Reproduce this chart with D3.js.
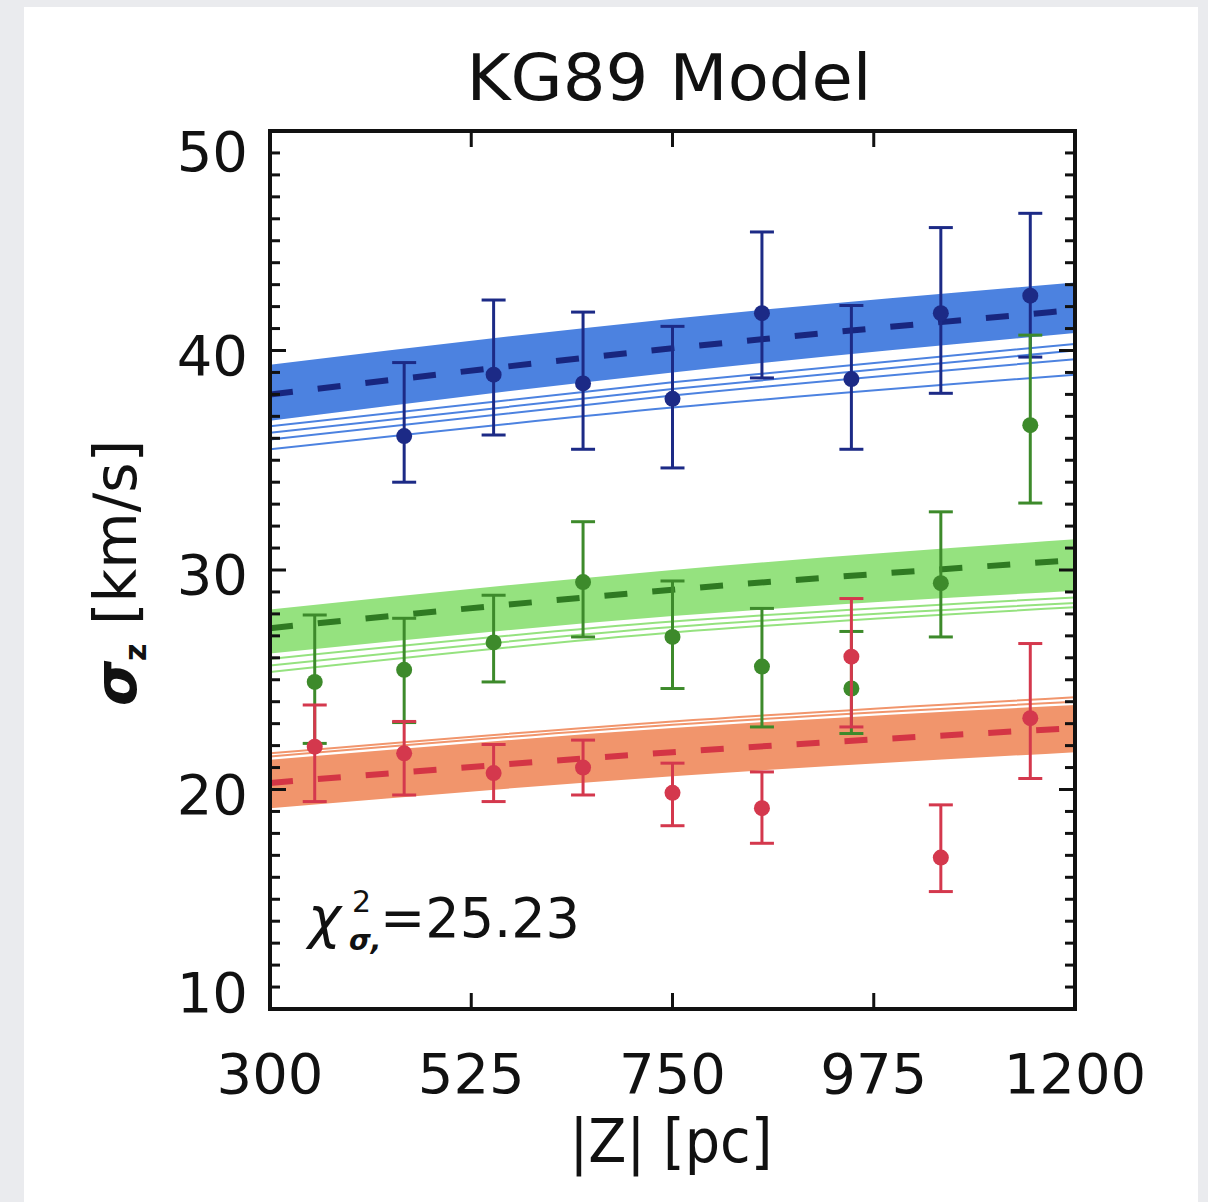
<!DOCTYPE html>
<html>
<head>
<meta charset="utf-8">
<script src="https://cdn.jsdelivr.net/npm/d3@7"></script>
<style>
  html, body { margin: 0; padding: 0; background: #eaebee; }
  svg { display: block; }
  text { font-family: "DejaVu Sans", sans-serif; fill: #111; }
</style>
</head>
<body>
<svg id="chart" width="1208" height="1202"></svg>
<script>
// measured data points (|Z| bins in pc, sigma_z in km/s)
var blueZ = [450, 550, 650, 750, 850, 950, 1050, 1150];
var blueSig = [36.1, 38.9, 38.5, 37.8, 41.7, 38.7, 41.7, 42.5];
var blueLo = [34.0, 36.15, 35.5, 34.65, 38.75, 35.5, 38.05, 39.7];
var blueHi = [39.45, 42.3, 41.75, 41.1, 45.4, 42.05, 45.6, 46.25];

var greenZ = [350, 450, 550, 650, 750, 850, 950, 1050, 1150];
var greenSig = [24.9, 25.45, 26.7, 29.45, 26.95, 25.6, 24.6, 29.4, 36.6];
var greenLo = [22.1, 23.05, 24.9, 26.95, 24.6, 22.85, 22.55, 26.95, 33.05];
var greenHi = [27.95, 27.8, 28.85, 32.2, 29.5, 28.25, 27.2, 32.65, 40.7];

var redZ = [350, 450, 550, 650, 750, 850, 950, 1050, 1150];
var redSig = [21.95, 21.65, 20.75, 21.0, 19.85, 19.15, 26.05, 16.9, 23.25];
var redLo = [19.45, 19.75, 19.45, 19.75, 18.35, 17.55, 22.85, 15.35, 20.5];
var redHi = [23.85, 23.1, 22.05, 22.25, 21.2, 20.8, 28.7, 19.3, 26.65];

// model curves, sampled at these heights
var modelZ = [300, 750, 1200];
var blueUpper = [39.35, 41.45, 43.1];
var blueLower = [36.8, 39.0, 40.8];
var blueFan = [[36.55, 38.55, 40.3], [36.25, 38.25, 40.0], [35.95, 37.95, 39.6], [35.5, 37.4, 38.9]];
var blueBest = [38.0, 40.1, 41.85];

var greenUpper = [28.2, 30.0, 31.4];
var greenLower = [26.2, 27.9, 29.05];
var greenFan = [[25.95, 27.65, 28.75], [25.65, 27.4, 28.5], [25.35, 27.15, 28.3]];
var greenBest = [27.35, 29.1, 30.45];

var redUpper = [21.35, 22.8, 23.85];
var redLower = [19.15, 20.6, 21.7];
var redFan = [[21.5, 22.95, 24.0], [21.65, 23.1, 24.2]];
var redBest = [20.3, 21.7, 22.8];

var xTicks = [300, 525, 750, 975, 1200];
var yTicks = [10, 20, 30, 40, 50];

main();

function main() {
  var svg = d3.select('#chart');

  // white page panel
  svg.append('rect')
    .attr('x', 24).attr('y', 7)
    .attr('width', 1174).attr('height', 1195)
    .attr('fill', '#fff');

  var plotLeft = 270, plotRight = 1075, plotTop = 131, plotBottom = 1009;

  var x = d3.scaleLinear().domain([300, 1200]).range([plotLeft, plotRight]);
  var y = d3.scaleLinear().domain([10, 50]).range([plotBottom, plotTop]);

  svg.append('clipPath').attr('id', 'plotClip')
    .append('rect')
    .attr('x', plotLeft).attr('y', plotTop)
    .attr('width', plotRight - plotLeft).attr('height', plotBottom - plotTop);

  var plot = svg.append('g').attr('clip-path', 'url(#plotClip)');

  var lineGen = d3.line()
    .x(function(d) { return x(d[0]); })
    .y(function(d) { return y(d[1]); })
    .curve(d3.curveNatural);

  var areaGen = d3.area()
    .x(function(d) { return x(d[0]); })
    .y0(function(d) { return y(d[1]); })
    .y1(function(d) { return y(d[2]); })
    .curve(d3.curveNatural);

  function pts(vals) {
    return modelZ.map(function(z, i) { return [z, vals[i]]; });
  }

  function drawModel(upper, lower, fan, best, bandColor, bestColor) {
    var band = modelZ.map(function(z, i) { return [z, lower[i], upper[i]]; });
    plot.append('path')
      .attr('d', areaGen(band))
      .attr('fill', bandColor);

    fan.forEach(function(vals) {
      plot.append('path')
        .attr('d', lineGen(pts(vals)))
        .attr('fill', 'none')
        .attr('stroke', bandColor)
        .attr('stroke-width', 2);
    });

    plot.append('path')
      .attr('d', lineGen(pts(best)))
      .attr('fill', 'none')
      .attr('stroke', bestColor)
      .attr('stroke-width', 6)
      .attr('stroke-dasharray', '23,25');
  }

  drawModel(blueUpper, blueLower, blueFan, blueBest, '#4c82e0', '#18267f');
  drawModel(greenUpper, greenLower, greenFan, greenBest, '#95e27f', '#2f7a22');
  drawModel(redUpper, redLower, redFan, redBest, '#f1956c', '#d43545');

  function drawPoints(zs, sig, lo, hi, color) {
    var g = plot.append('g')
      .attr('stroke', color)
      .attr('fill', color);
    zs.forEach(function(z, i) {
      var cx = x(z);
      g.append('line')
        .attr('x1', cx).attr('x2', cx)
        .attr('y1', y(lo[i])).attr('y2', y(hi[i]))
        .attr('stroke-width', 3);
      [lo[i], hi[i]].forEach(function(v) {
        g.append('line')
          .attr('x1', cx - 12).attr('x2', cx + 12)
          .attr('y1', y(v)).attr('y2', y(v))
          .attr('stroke-width', 3);
      });
      g.append('circle')
        .attr('cx', cx).attr('cy', y(sig[i]))
        .attr('r', 8)
        .attr('stroke', 'none');
    });
  }

  drawPoints(blueZ, blueSig, blueLo, blueHi, '#1c2a86');
  drawPoints(greenZ, greenSig, greenLo, greenHi, '#3d8a2b');
  drawPoints(redZ, redSig, redLo, redHi, '#d4384d');

  // axes, ticks point inward like IDL
  var minorY = d3.range(10, 51, 1);
  var axes = svg.append('g').attr('stroke', '#111');

  axes.append('rect')
    .attr('x', plotLeft).attr('y', plotTop)
    .attr('width', plotRight - plotLeft).attr('height', plotBottom - plotTop)
    .attr('fill', 'none')
    .attr('stroke-width', 4);

  minorY.forEach(function(v) {
    var len = (v % 10 === 0) ? 16 : 10;
    axes.append('line')
      .attr('x1', plotLeft).attr('x2', plotLeft + len)
      .attr('y1', y(v)).attr('y2', y(v))
      .attr('stroke-width', 3);
    axes.append('line')
      .attr('x1', plotRight).attr('x2', plotRight - len)
      .attr('y1', y(v)).attr('y2', y(v))
      .attr('stroke-width', 3);
  });

  xTicks.forEach(function(v) {
    axes.append('line')
      .attr('x1', x(v)).attr('x2', x(v))
      .attr('y1', plotBottom).attr('y2', plotBottom - 16)
      .attr('stroke-width', 3);
    axes.append('line')
      .attr('x1', x(v)).attr('x2', x(v))
      .attr('y1', plotTop).attr('y2', plotTop + 16)
      .attr('stroke-width', 3);
  });

  // tick labels
  svg.selectAll('text.ylab')
    .data(yTicks)
    .enter().append('text')
    .attr('class', 'ylab')
    .attr('x', 248)
    .attr('y', function(d) {
      // end labels are nudged inside the axis span
      var shift = d === 50 ? 20 : (d === 10 ? -17 : 4);
      return y(d) + shift;
    })
    .attr('dy', '0.36em')
    .attr('text-anchor', 'end')
    .attr('font-size', 56)
    .text(function(d) { return d; });

  svg.selectAll('text.xlab')
    .data(xTicks)
    .enter().append('text')
    .attr('class', 'xlab')
    .attr('x', function(d) { return x(d); })
    .attr('y', 1093)
    .attr('text-anchor', 'middle')
    .attr('font-size', 56)
    .text(function(d) { return d; });

  // title
  svg.append('text')
    .attr('x', 669).attr('y', 100)
    .attr('text-anchor', 'middle')
    .attr('font-size', 64)
    .attr('textLength', 405)
    .attr('lengthAdjust', 'spacingAndGlyphs')
    .text('KG89  Model');

  // x axis title
  svg.append('text')
    .attr('x', 671).attr('y', 1162)
    .attr('text-anchor', 'middle')
    .attr('font-size', 60)
    .attr('textLength', 203)
    .attr('lengthAdjust', 'spacingAndGlyphs')
    .text('|Z| [pc]');

  // y axis title
  var yt = svg.append('text')
    .attr('transform', 'translate(136,573) rotate(-90)')
    .attr('text-anchor', 'middle')
    .attr('font-size', 58);
  yt.append('tspan').attr('font-weight', 'bold').attr('font-style', 'italic').text('σ');
  yt.append('tspan').attr('font-weight', 'bold').attr('font-size', 30).attr('dy', 10).text('z');
  yt.append('tspan').attr('dy', -10).text(' [km/s]');

  // chi-square annotation
  svg.append('text')
    .attr('x', 308).attr('y', 937)
    .attr('font-size', 56)
    .attr('font-style', 'italic')
    .text('χ');
  svg.append('text')
    .attr('x', 352).attr('y', 912)
    .attr('font-size', 30)
    .text('2');
  svg.append('text')
    .attr('x', 349).attr('y', 950)
    .attr('font-size', 28)
    .attr('font-weight', 'bold')
    .attr('font-style', 'italic')
    .text('σ,');
  svg.append('text')
    .attr('x', 380).attr('y', 937)
    .attr('font-size', 56)
    .attr('textLength', 200)
    .attr('lengthAdjust', 'spacingAndGlyphs')
    .text('=25.23');
}
</script>
</body>
</html>
